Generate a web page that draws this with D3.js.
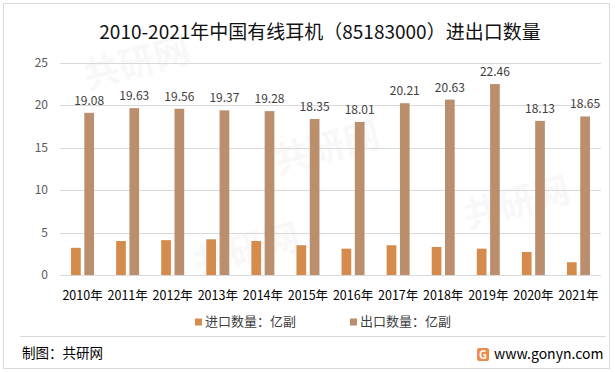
<!DOCTYPE html>
<html>
<head>
<meta charset="utf-8">
<script src="https://cdn.jsdelivr.net/npm/d3@7"></script>
<style>
  body { margin: 0; background: #fff; }
  svg { display: block; font-family: "Noto Sans CJK SC", "Noto Sans", sans-serif; }
</style>
</head>
<body>
<div id="chart"></div>
<script>
// years on the x axis
let years = ["2010年", "2011年", "2012年", "2013年", "2014年", "2015年",
             "2016年", "2017年", "2018年", "2019年", "2020年", "2021年"];
// import quantity (no labels in the source)
let importVals = [3.2, 4.0, 4.1, 4.2, 4.0, 3.5, 3.1, 3.5, 3.3, 3.1, 2.7, 1.5];
// export quantity (labelled)
let exportVals = [19.08, 19.63, 19.56, 19.37, 19.28, 18.35, 18.01, 20.21, 20.63, 22.46, 18.13, 18.65];
let yTicks = [0, 5, 10, 15, 20, 25];
let seriesNames = ["进口数量：亿副", "出口数量：亿副"];
let colors = ["#D58B4C", "#BB8E6E"];

let width = 615, height = 372;

let svg = d3.select("#chart").append("svg")
  .attr("width", width)
  .attr("height", height);

// outer frame
svg.append("rect")
  .attr("x", 3.5).attr("y", 3.5)
  .attr("width", 606).attr("height", 365)
  .attr("fill", "#fff")
  .attr("stroke", "#d9d9d9");

// faint watermarks, kept inside the frame
let marks = [[140, 75], [330, 160], [250, 262], [520, 215]];
svg.append("g").selectAll("text")
  .data(marks)
  .enter().append("text")
  .attr("transform", d => "translate(" + d[0] + "," + d[1] + ") rotate(-15)")
  .attr("text-anchor", "middle")
  .attr("font-size", 36)
  .attr("font-weight", "bold")
  .attr("fill", "#000")
  .attr("opacity", 0.025)
  .text("共研网");

// title
svg.append("text")
  .attr("x", 320).attr("y", 34)
  .attr("text-anchor", "middle")
  .attr("dominant-baseline", "middle")
  .attr("font-size", 19)
  .attr("font-weight", 400)
  .attr("fill", "#111")
  .text("2010-2021年中国有线耳机（85183000）进出口数量");

let x0 = d3.scaleBand()
  .domain(years)
  .range([60, 601])
  .paddingInner(0.49)
  .paddingOuter(0.245);

let x1 = d3.scaleBand()
  .domain([0, 1])
  .range([0, x0.bandwidth()])
  .paddingInner(0.27);

let y = d3.scaleLinear()
  .domain([0, 25])
  .range([275, 62.5]);

// grid lines
svg.append("g").selectAll("line")
  .data(yTicks)
  .enter().append("line")
  .attr("x1", 60).attr("x2", 601)
  .attr("y1", d => Math.round(y(d)) + 0.5)
  .attr("y2", d => Math.round(y(d)) + 0.5)
  .attr("stroke", "#d9d9d9");

// y axis labels
let yAxis = svg.append("g")
  .attr("transform", "translate(60,0)")
  .call(d3.axisLeft(y).tickValues(yTicks).tickSize(0).tickPadding(12));
yAxis.select(".domain").remove();
yAxis.selectAll("text")
  .attr("font-size", 12)
  .attr("fill", "#595959")
  .attr("font-family", "\"Noto Sans CJK SC\", sans-serif");

// x axis labels
let xAxis = svg.append("g")
  .attr("transform", "translate(0,275)")
  .call(d3.axisBottom(x0).tickSize(0).tickPadding(16));
xAxis.select(".domain").remove();
xAxis.selectAll("text")
  .attr("font-size", 12.5)
  .attr("fill", "#000")
  .attr("font-family", "\"Noto Sans CJK SC\", sans-serif");

// bars
let groups = svg.append("g").selectAll("g")
  .data(years)
  .enter().append("g")
  .attr("transform", d => "translate(" + x0(d) + ",0)");

groups.append("rect")
  .attr("x", x1(0))
  .attr("width", x1.bandwidth())
  .attr("y", (d, i) => y(importVals[i]))
  .attr("height", (d, i) => y(0) - y(importVals[i]))
  .attr("fill", colors[0]);

groups.append("rect")
  .attr("x", x1(1))
  .attr("width", x1.bandwidth())
  .attr("y", (d, i) => y(exportVals[i]))
  .attr("height", (d, i) => y(0) - y(exportVals[i]))
  .attr("fill", colors[1]);

// export value labels
groups.append("text")
  .attr("x", x1(1) + x1.bandwidth() / 2)
  .attr("y", (d, i) => y(exportVals[i]) - 8)
  .attr("text-anchor", "middle")
  .attr("font-size", 12)
  .attr("fill", "#404040")
  .text((d, i) => exportVals[i].toFixed(2));

// legend
let legendX = [195, 350];
let legend = svg.append("g").selectAll("g")
  .data(seriesNames)
  .enter().append("g")
  .attr("transform", (d, i) => "translate(" + legendX[i] + ",322)");
legend.append("rect")
  .attr("x", 0).attr("y", -3.5)
  .attr("width", 7).attr("height", 7)
  .attr("fill", (d, i) => colors[i]);
legend.append("text")
  .attr("x", 10).attr("y", 0)
  .attr("dominant-baseline", "middle")
  .attr("font-size", 13)
  .attr("fill", "#404040")
  .text(d => d);

// footer separator
svg.append("line")
  .attr("x1", 20).attr("x2", 606)
  .attr("y1", 336.5).attr("y2", 336.5)
  .attr("stroke", "#d9d9d9");

svg.append("text")
  .attr("x", 22).attr("y", 354)
  .attr("dominant-baseline", "middle")
  .attr("font-size", 13.5)
  .attr("fill", "#000")
  .text("制图：共研网");

// small logo
let logo = svg.append("g").attr("transform", "translate(477,348)");
logo.append("rect")
  .attr("width", 12).attr("height", 13).attr("rx", 2)
  .attr("fill", "#F08A4B");
logo.append("text")
  .attr("x", 6).attr("y", 10.5)
  .attr("text-anchor", "middle")
  .attr("font-size", 11)
  .attr("font-weight", "bold")
  .attr("fill", "#fff")
  .text("G");

svg.append("text")
  .attr("x", 494).attr("y", 355)
  .attr("dominant-baseline", "middle")
  .attr("font-size", 14)
  .attr("fill", "#000")
  .text("www.gonyn.com");
</script>
</body>
</html>
